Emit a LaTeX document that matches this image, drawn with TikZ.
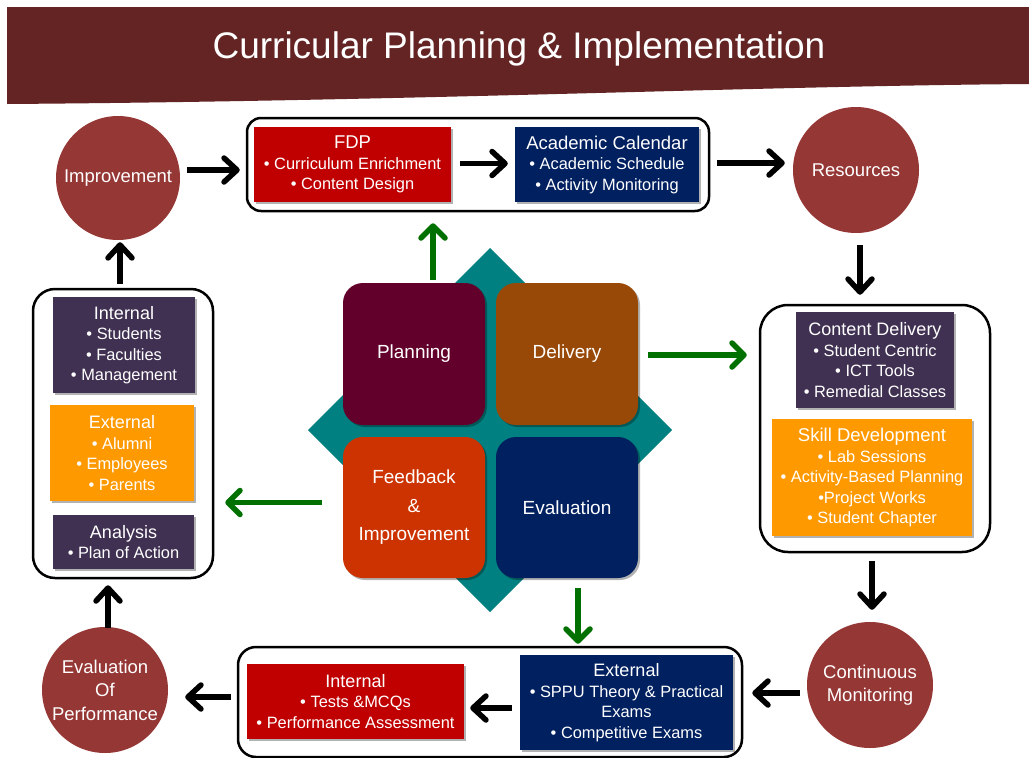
\documentclass[tikz,border=0pt]{standalone}
\usepackage{fontspec}
\setmainfont{Liberation Sans}
\usetikzlibrary{arrows.meta,calc,shadows}
\definecolor{titlebar}{HTML}{632423}
\definecolor{circred}{HTML}{953735}
\definecolor{boxred}{HTML}{C00000}
\definecolor{boxnavy}{HTML}{002060}
\definecolor{boxpurple}{HTML}{403152}
\definecolor{boxorange}{HTML}{FF9900}
\definecolor{teal}{HTML}{008080}
\definecolor{planc}{HTML}{62002B}
\definecolor{delivc}{HTML}{984807}
\definecolor{feedc}{HTML}{CC3300}
\definecolor{arrgreen}{HTML}{007000}
\begin{document}
\begin{tikzpicture}[x=1pt,y=-1pt,
  circ/.style={circle, fill=circred, minimum size=126pt, inner sep=0pt, text=white, align=center, font=\fontsize{18.5}{23.5}\selectfont},
  cont/.style={draw=black, line width=2.5pt, fill=white, inner sep=0pt},
  pbox/.style={text=white, align=center, inner sep=0pt, font=\fontsize{16.4}{20.5}\selectfont,
    drop shadow={shadow xshift=1.5pt, shadow yshift=-1.5pt, opacity=0.3, fill=black}},
  sq/.style={rounded corners=20pt, text=white, align=center, inner sep=0pt, font=\fontsize{19}{28.5}\selectfont,
    drop shadow={shadow xshift=2pt, shadow yshift=-2pt, opacity=0.3, fill=black}},
  blk/.style={draw=black, line width=5.5pt, -{Straight Barb[length=13pt,width=24pt,line width=5.5pt,round]}},
  grn/.style={draw=arrgreen, line width=5.5pt, -{Straight Barb[length=12pt,width=24pt,line width=5.5pt,round]}},
]
\path[use as bounding box] (0,0) rectangle (1029,758);
\fill[white] (0,0) rectangle (1029,758);
% title bar
\fill[titlebar] (7,7) -- (1029,7) -- (1029,84) .. controls (760,86) and (420,101) .. (7,104) -- cycle;
\node[text=white, font=\fontsize{37}{40}\selectfont] (title) at (519,49) {Curricular Planning \& Implementation};

% circles
\node[circ, minimum size=124pt] (impr) at (118,178) {Improvement};
\node[circ] (res) at (856,170) {Resources};
\node[circ] (mon) at (870,685) {Continuous\\Monitoring};
\node[circ] (perf) at (105,690) {Evaluation\\Of\\Performance};

% top container
\node[cont, rounded corners=14pt, minimum width=462pt, minimum height=93pt] (top) at (478,164.5) {};
\node[pbox, fill=boxred, minimum width=197pt, minimum height=75pt] (fdp) at (352.5,164.5)
  {{\fontsize{18.5}{22}\selectfont FDP}\\• Curriculum Enrichment\\• Content Design};
\node[pbox, fill=boxnavy, minimum width=184pt, minimum height=75pt] (acal) at (607,164.5)
  {{\fontsize{18.5}{22}\selectfont Academic Calendar}\\• Academic Schedule\\• Activity Monitoring};

% right container
\node[cont, rounded corners=28pt, minimum width=230pt, minimum height=247pt] (right) at (875,428.5) {};
\node[pbox, fill=boxpurple, minimum width=158pt, minimum height=96pt] (cdel) at (875,360)
  {{\fontsize{18}{22}\selectfont Content Delivery}\\• Student Centric\\• ICT Tools\\• Remedial Classes};
\node[pbox, fill=boxorange, minimum width=200pt, minimum height=117pt] (skill) at (872,477.5)
  {{\fontsize{18.5}{22}\selectfont Skill Development}\\• Lab Sessions\\• Activity-Based Planning\\•Project Works\\• Student Chapter};

% bottom container
\node[cont, rounded corners=18pt, minimum width=504pt, minimum height=110pt] (bot) at (490,702) {};
\node[pbox, fill=boxred, minimum width=217pt, minimum height=75pt] (bint) at (355.5,701.5)
  {{\fontsize{18}{22}\selectfont Internal}\\• Tests \&MCQs\\• Performance Assessment};
\node[pbox, fill=boxnavy, minimum width=213pt, minimum height=95pt] (bext) at (626.5,702.5)
  {{\fontsize{18}{22}\selectfont External}\\• SPPU Theory \& Practical\\Exams\\• Competitive Exams};

% left container
\node[cont, rounded corners=22pt, minimum width=180pt, minimum height=289pt] (left) at (123,433.5) {};
\node[pbox, fill=boxpurple, minimum width=142pt, minimum height=96pt] (lint) at (124,345)
  {{\fontsize{18}{22}\selectfont Internal}\\• Students\\• Faculties\\• Management};
\node[pbox, fill=boxorange, minimum width=144pt, minimum height=96pt] (lext) at (122,453)
  {{\fontsize{18}{22}\selectfont External}\\• Alumni\\• Employees\\• Parents};
\node[pbox, fill=boxpurple, minimum width=141pt, minimum height=54pt] (anal) at (123.5,542)
  {{\fontsize{18}{22}\selectfont Analysis}\\• Plan of Action};

% centre
\fill[teal] (490,248) -- (672,430) -- (490,612) -- (308,430) -- cycle;
\node[sq, fill=planc, minimum width=142pt, minimum height=142pt] (plan) at (414,354) {Planning};
\node[sq, fill=delivc, minimum width=142pt, minimum height=142pt] (deliv) at (567,354) {Delivery};
\node[sq, fill=feedc, minimum width=142pt, minimum height=141pt] (feed) at (414,507.5) {Feedback\\\&\\Improvement};
\node[sq, fill=boxnavy, minimum width=142pt, minimum height=141pt] (eval) at (567,507.5) {Evaluation};

% black arrows
\draw[blk] ($(impr.east)+(7,-8)$) -- ($(top.west |- impr.east)+(-6,-8)$);
\draw[blk] ($(fdp.east)+(9,-1)$) -- ($(acal.west)+(-7,-1)$);
\draw[blk] ($(top.east)+(7,-1.5)$) -- ($(res.west |- top.east)+(-8,-1.5)$);
\draw[blk] ($(res.south)+(4,12)$) -- ($(res.south |- right.north)+(4,-9)$);
\draw[blk] ($(right.south)+(-3,8)$) -- ($(right.south |- mon.north)+(-3,-12)$);
\draw[blk] ($(mon.west)+(-7,8)$) -- ($(bot.east |- mon.west)+(9,8)$);
\draw[blk] ($(bext.west)+(-8,5.5)$) -- ($(bint.east |- bext.west)+(6,5.5)$);
\draw[blk] ($(bot.west)+(-6,-5)$) -- ($(perf.east |- bot.west)+(17,-5)$);
\draw[blk] ($(perf.north)+(3,1)$) -- ($(perf.north |- left.south)+(3,6)$);
\draw[blk] ($(left.north)+(-3,-4)$) -- ($(left.north |- impr.south)+(-3,2)$);

% green arrows
\draw[grn] ($(plan.north)+(19,-3)$) -- ($(plan.north |- top.south)+(19,11)$);
\draw[grn] ($(deliv.east)+(10,1)$) -- ($(right.west |- deliv.east)+(-12,1)$);
\draw[grn] ($(feed.west)+(-21,-5)$) -- ($(left.east |- feed.west)+(11,-5)$);
\draw[grn] ($(eval.south)+(11,10)$) -- ($(eval.south |- bot.north)+(11,-2)$);
\end{tikzpicture}
\end{document}
